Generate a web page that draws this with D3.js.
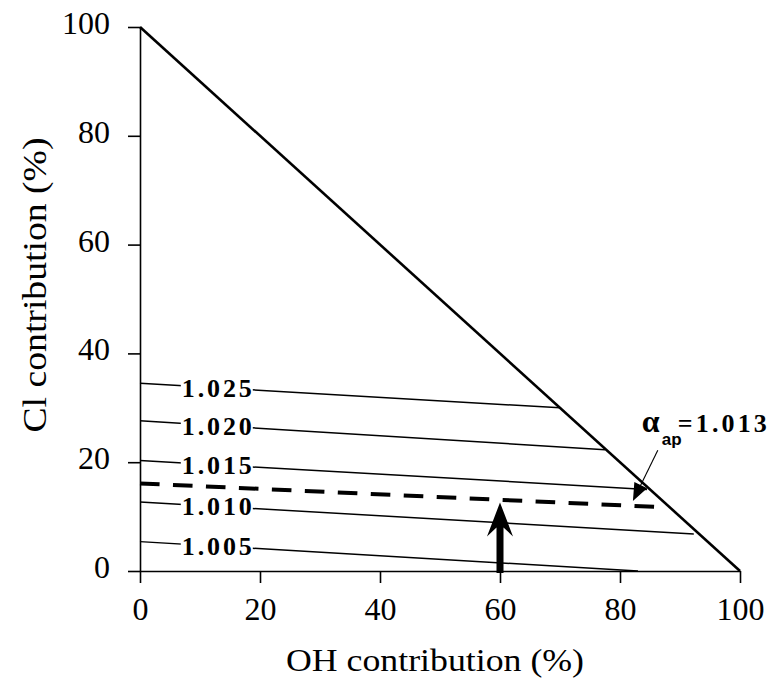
<!DOCTYPE html>
<html>
<head>
<meta charset="utf-8">
<script src="https://cdn.jsdelivr.net/npm/d3@7"></script>
<style>
  html, body { margin: 0; padding: 0; background: #fff; }
  svg { display: block; }
  text { font-family: "Liberation Serif", "Times New Roman", Times, serif; fill: #000; }
</style>
</head>
<body>
<svg id="chart" width="769" height="679"></svg>
<script>
// ---- data ----
const xTicks = [0, 20, 40, 60, 80, 100];
const yTicks = [0, 20, 40, 60, 80, 100];
const contourLabels = ["1.025", "1.020", "1.015", "1.010", "1.005"];
const contourStartY = [34.5, 27.6, 20.3, 12.7, 5.4];
const contourEndX   = [70, 77.5, 84.5, 92.3, 83];
const contourEndY   = [30, 22.3, 15.0, 6.8, 0];
const alphaLabel = "1.013";
const alphaLine = [[0, 16.1], [85.8, 11.8]];
const boundaryLine = [[0, 100], [100, 0]];
const arrowX = 60, arrowBaseY = 0, arrowTipY = 12.6;
const labelAtX = 12.8;
const pointerFrom = [86.3, 22.2], pointerTo = [82.3, 13.2];
const alphaTextAt = [83.8, 25.5];
const xTitle = "OH contribution (%)";
const yTitle = "Cl contribution (%)";

// ---- scales ----
const svg = d3.select("#chart");
const x = d3.scaleLinear().domain([0, 100]).range([140, 740]);
const y = d3.scaleLinear().domain([0, 100]).range([571, 27]);
const line = d3.line().x(d => x(d[0])).y(d => y(d[1]));
const serif = '"Liberation Serif", "Times New Roman", Times, serif';

// ---- axes ----
const xAxis = svg.append("g").attr("transform", `translate(0,${y(0)})`)
  .call(d3.axisBottom(x).tickValues(xTicks).tickSize(12).tickSizeOuter(0).tickPadding(14).tickFormat(d3.format("d")));
const yAxis = svg.append("g").attr("transform", `translate(${x(0)},0)`)
  .call(d3.axisLeft(y).tickValues(yTicks).tickSize(12).tickSizeOuter(0).tickPadding(18).tickFormat(d3.format("d")));
[xAxis, yAxis].forEach(g => {
  g.attr("font-family", null);
  g.selectAll("path.domain").attr("stroke", "#000").attr("stroke-width", 1.6);
  g.selectAll(".tick line").attr("stroke", "#000").attr("stroke-width", 1.6);
  g.selectAll(".tick text").style("font-size", "32px").style("font-family", serif).attr("fill", "#000");
});
yAxis.selectAll(".tick text").attr("dy", "0.2em");

// ---- boundary diagonal ----
svg.append("path").datum(boundaryLine).attr("d", line)
  .attr("fill", "none").attr("stroke", "#000").attr("stroke-width", 2.6);

// ---- contour lines ----
const contours = contourLabels.map((lab, i) => ({
  label: lab,
  pts: [[0, contourStartY[i]], [contourEndX[i], contourEndY[i]]]
}));
const cg = svg.append("g");
contours.forEach(c => {
  cg.append("path").datum(c.pts).attr("d", line)
    .attr("fill", "none").attr("stroke", "#000").attr("stroke-width", 1.5);
  const [p0, p1] = c.pts;
  const ly = p0[1] + (p1[1] - p0[1]) * (labelAtX - p0[0]) / (p1[0] - p0[0]);
  const cx = x(labelAtX), cy = y(ly);
  cg.append("rect").attr("x", cx - 36).attr("y", cy - 10).attr("width", 72).attr("height", 20).attr("fill", "#fff");
  cg.append("text").attr("x", cx - 35).attr("y", cy + 9)
    .attr("textLength", 70).attr("lengthAdjust", "spacing")
    .style("font-size", "26px").style("font-weight", "bold").style("font-family", serif)
    .text(c.label);
});

// ---- dashed alpha line ----
svg.append("path").datum(alphaLine).attr("d", line)
  .attr("fill", "none").attr("stroke", "#000").attr("stroke-width", 4)
  .attr("stroke-dasharray", "19.6,13.4");

// ---- vertical arrow ----
const ax = x(arrowX), tipY = y(arrowTipY), baseY = y(arrowBaseY);
const headLen = 34, headHalf = 13, notch = 9, shaftHalf = 3.5;
svg.append("path")
  .attr("d", `M${ax - shaftHalf},${baseY + 2} L${ax - shaftHalf},${tipY + headLen - notch}
    L${ax - headHalf},${tipY + headLen} L${ax},${tipY} L${ax + headHalf},${tipY + headLen}
    L${ax + shaftHalf},${tipY + headLen - notch} L${ax + shaftHalf},${baseY + 2} Z`)
  .attr("fill", "#000");

// ---- pointer annotation ----
const px0 = x(pointerFrom[0]), py0 = y(pointerFrom[1]);
const px1 = x(pointerTo[0]), py1 = y(pointerTo[1]);
const ang = Math.atan2(py1 - py0, px1 - px0);
const hl = 15, hw = 6;
const bx = px1 - hl * Math.cos(ang), by = py1 - hl * Math.sin(ang);
svg.append("line").attr("x1", px0).attr("y1", py0).attr("x2", bx).attr("y2", by)
  .attr("stroke", "#000").attr("stroke-width", 1.1);
svg.append("path")
  .attr("d", `M${px1},${py1} L${bx - hw * Math.sin(ang)},${by + hw * Math.cos(ang)} L${bx + hw * Math.sin(ang)},${by - hw * Math.cos(ang)} Z`)
  .attr("fill", "#000").attr("stroke", "#000").attr("stroke-width", 1.5).attr("stroke-linejoin", "miter");

const tx = x(alphaTextAt[0]), ty = y(alphaTextAt[1]);
svg.append("text").attr("x", tx - 1).attr("y", ty)
  .style("font-size", "32px").style("font-weight", "bold").style("font-family", serif).text("α");
svg.append("text").attr("x", tx + 19).attr("y", ty + 13)
  .style("font-size", "17px").style("font-weight", "bold").style("font-family", '"Liberation Sans", Arial, sans-serif').text("ap");
svg.append("text").attr("x", tx + 35).attr("y", ty)
  .attr("textLength", 89).attr("lengthAdjust", "spacing")
  .style("font-size", "26px").style("font-weight", "bold").style("font-family", serif).text("=" + alphaLabel);

// ---- axis titles ----
svg.append("text").attr("x", (x(0) + x(100)) / 2 - 5).attr("y", 671)
  .attr("text-anchor", "middle").attr("textLength", 298).attr("lengthAdjust", "spacingAndGlyphs")
  .style("font-size", "32px").style("font-family", serif).text(xTitle);
svg.append("text").attr("transform", `translate(46,${285}) rotate(-90)`)
  .attr("text-anchor", "middle").attr("textLength", 295).attr("lengthAdjust", "spacingAndGlyphs")
  .style("font-size", "34px").style("font-family", serif).text(yTitle);
</script>
</body>
</html>
